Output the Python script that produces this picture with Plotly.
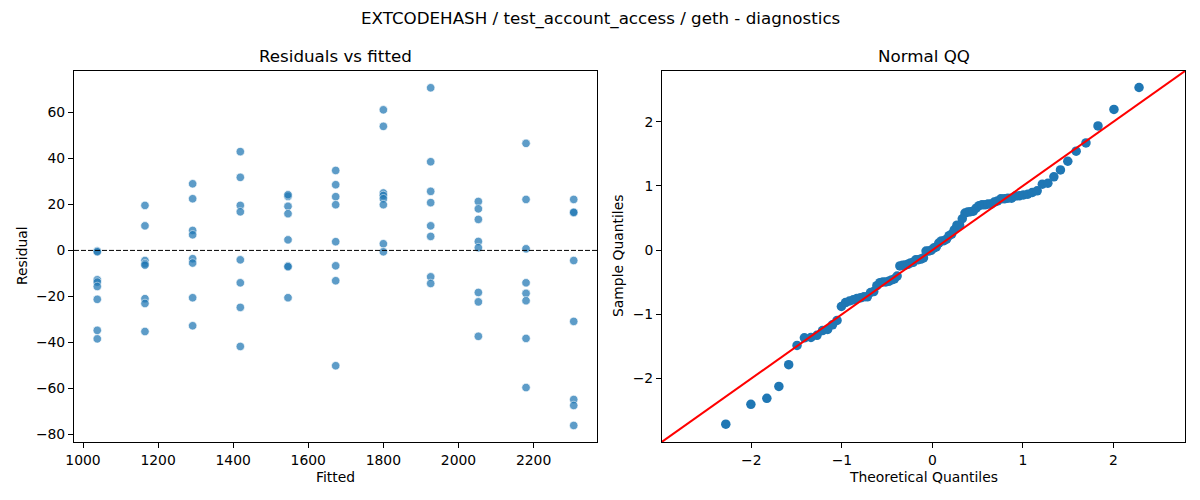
import statistics
import numpy as np
import plotly.graph_objects as go

# fitted value for each group of runs
fitted_levels = [1038, 1165, 1292, 1419, 1546, 1673, 1800, 1926, 2053, 2180, 2307]

# residuals read per fitted level
residuals = [
    [-0.3, -0.6, -12.8, -13.8, -15.7, -21.3, -34.8, -38.5],
    [19.6, 10.7, -4.4, -5.8, -6.4, -21.0, -23.1, -35.3],
    [29.0, 22.5, 8.7, 6.8, -3.6, -5.5, -20.6, -32.8],
    [43.0, 31.8, 19.6, 16.8, -4.1, -14.1, -24.8, -41.8],
    [23.5, 24.2, 19.2, 16.0, 4.6, -6.8, -7.1, -20.6],
    [34.8, 28.6, 23.4, 19.9, 3.8, -6.7, -13.2, -50.2],
    [61.2, 54.0, 25.0, 23.9, 22.5, 19.9, 2.9, -0.6],
    [70.8, 38.6, 25.7, 20.8, 10.7, 6.1, -11.5, -14.4],
    [21.3, 18.1, 13.5, 3.9, 1.2, -18.3, -22.4, -37.4],
    [46.6, 22.2, 0.7, -14.1, -18.7, -21.9, -38.3, -59.7],
    [22.2, 16.4, 16.6, -4.4, -30.9, -64.9, -67.5, -76.2],
]

title = "EXTCODEHASH / test_account_access / geth - diagnostics"

fitted = []
resid = []
for lvl, vals in zip(fitted_levels, residuals):
    for v in vals:
        fitted.append(lvl)
        resid.append(v)
resid = np.array(resid)

# qq: standardised residuals vs normal quantiles, positions i/(n+1)
n = len(resid)
sample_q = np.sort((resid - resid.mean()) / resid.std())
nd = statistics.NormalDist()
theo_q = [nd.inv_cdf(i / (n + 1)) for i in range(1, n + 1)]

# page body has an 8px margin, so the figure is 16px smaller than the window
PAD = 8
W, H = 1200 - 2 * PAD, 500 - 2 * PAD
font = "DejaVu Sans"
blue = "#1f77b4"

fig = go.Figure()

fig.add_trace(go.Scatter(
    x=fitted, y=resid, mode="markers",
    marker=dict(size=8.5, color=blue, opacity=0.72, line=dict(color="white", width=0.7)),
    xaxis="x", yaxis="y", showlegend=False, hoverinfo="x+y",
))

qq_lim = [-2.987, 2.79]
fig.add_trace(go.Scatter(
    x=theo_q, y=sample_q, mode="markers",
    marker=dict(size=9.5, color=blue),
    xaxis="x2", yaxis="y2", showlegend=False,
))
fig.add_trace(go.Scatter(
    x=[-4, 4], y=[-4, 4], mode="lines",
    line=dict(color="red", width=2),
    xaxis="x2", yaxis="y2", showlegend=False, hoverinfo="skip",
))

fig.add_shape(type="line", xref="x domain", yref="y", x0=0, x1=1, y0=0, y1=0,
              line=dict(color="black", width=1, dash="5px,2px"))


def px_x(p):
    return (p - PAD) / W


def px_y(p):
    return 1 - (p - PAD) / H


axis_common = dict(
    showline=True, mirror=True, linecolor="black", linewidth=1,
    ticks="outside", ticklen=5, tickwidth=1, tickcolor="black",
    showgrid=False, zeroline=False, automargin=False,
    tickfont=dict(family=font, size=13.9, color="black"),
)

fig.update_layout(
    width=W, height=H,
    margin=dict(l=0, r=0, t=0, b=0, autoexpand=False),
    paper_bgcolor="white", plot_bgcolor="white",
    font=dict(family=font, color="black"),
    xaxis=dict(domain=[px_x(74), px_x(597)], range=[976, 2369],
               tickvals=[1000, 1200, 1400, 1600, 1800, 2000, 2200], anchor="y", **axis_common),
    yaxis=dict(domain=[px_y(442), px_y(71)], range=[-83.4, 78.1],
               tickvals=[-80, -60, -40, -20, 0, 20, 40, 60], anchor="x", **axis_common),
    xaxis2=dict(domain=[px_x(662), px_x(1185)], range=qq_lim,
                tickvals=[-2, -1, 0, 1, 2], anchor="y2", **axis_common),
    yaxis2=dict(domain=[px_y(442), px_y(71)], range=[-2.99, 2.79],
                tickvals=[-2, -1, 0, 1, 2], anchor="x2", **axis_common),
)

texts = [
    (title, 600, 18, 16.7, 0),
    ("Residuals vs fitted", 335.5, 56, 16.7, 0),
    ("Normal QQ", 923.5, 56, 16.7, 0),
    ("Fitted", 335.5, 477, 13.9, 0),
    ("Theoretical Quantiles", 923.5, 477, 13.9, 0),
    ("Residual", 22, 256, 13.9, -90),
    ("Sample Quantiles", 618, 256, 13.9, -90),
]
for t, x, y, s, rot in texts:
    fig.add_annotation(text=t, xref="paper", yref="paper", x=px_x(x), y=px_y(y),
                       xanchor="center", yanchor="middle", showarrow=False,
                       textangle=rot, font=dict(family=font, size=s, color="black"))

fig.write_html("out.html")
